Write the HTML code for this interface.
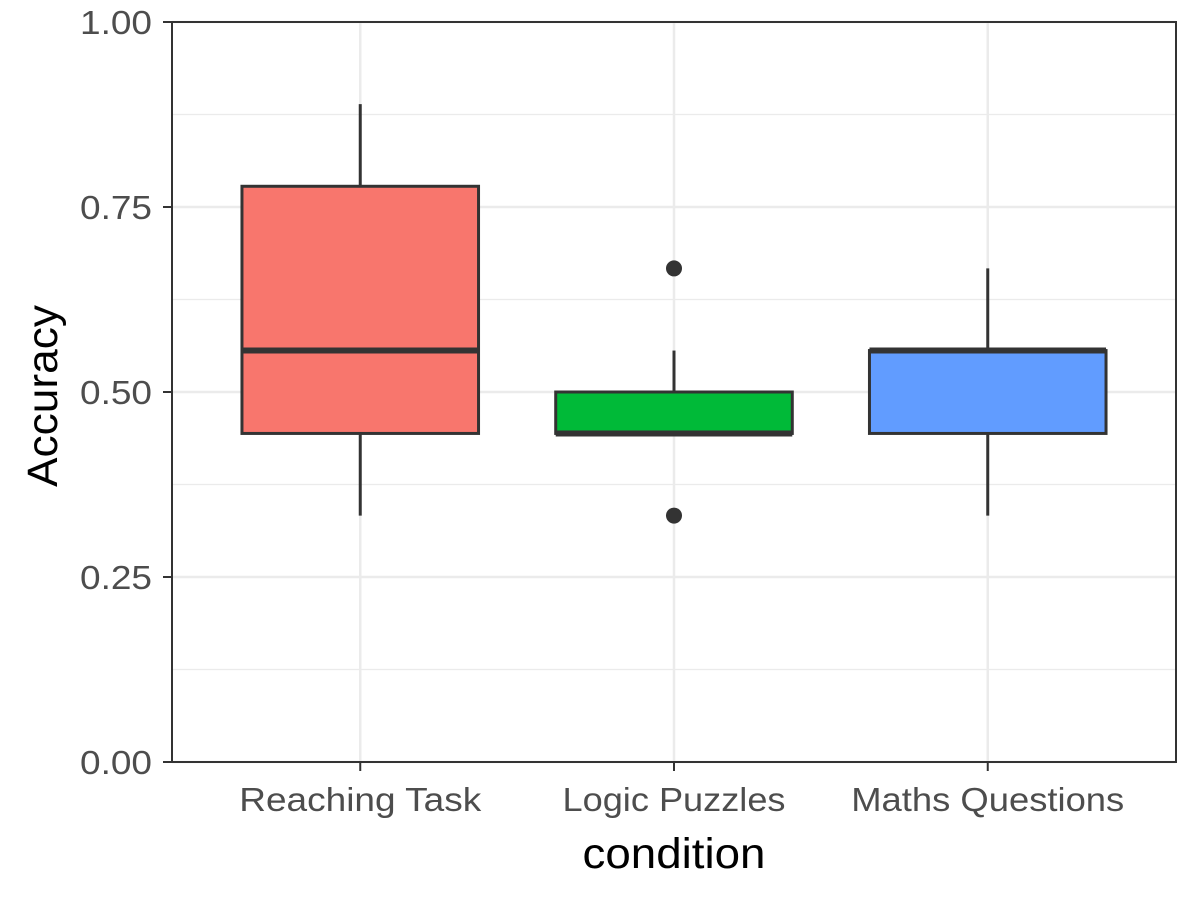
<!DOCTYPE html>
<html><head><meta charset="utf-8"><style>
body{margin:0;background:#fff}
svg text{font-family:"Liberation Sans",Arial,sans-serif}
</style></head><body>
<svg id="chart" width="1200" height="900" xmlns="http://www.w3.org/2000/svg">
<rect x="0" y="0" width="1200" height="900" fill="#fff"/>
<g id="grid"></g>
<g id="boxes"></g>
<rect x="172" y="22" width="1004" height="740" fill="none" stroke="#333" stroke-width="2"/>
<g id="axes"></g>
<text x="674" y="868" font-size="43" text-anchor="middle" textLength="183" lengthAdjust="spacingAndGlyphs" fill="#000">condition</text>
<text transform="translate(57,396) rotate(-90)" font-size="43" text-anchor="middle" textLength="182" lengthAdjust="spacingAndGlyphs" fill="#000">Accuracy</text>
</svg>
<script>
const categories=["Reaching Task","Logic Puzzles","Maths Questions"];
const colors=["#F8766D","#00BA38","#619CFF"];
const whiskerLow=[0.333,0.444,0.333];
const q1=[0.444,0.444,0.444];
const median=[0.556,0.444,0.556];
const q3=[0.778,0.5,0.556];
const whiskerHigh=[0.889,0.556,0.667];
const outliers=[[],[0.667,0.333],[]];
const yTicks=[0,0.25,0.5,0.75,1];
const yTickLabels=["0.00","0.25","0.50","0.75","1.00"];
const NS="http://www.w3.org/2000/svg";
const X0=172,X1=1176,Y0=762,Y1=22;
const y=v=>Y0-(Y0-Y1)*v;
const unit=(X1-X0)/(categories.length-1+1.2);
const x=i=>X0+unit*(i+0.6);
function mk(p,t,a){const e=document.createElementNS(NS,t);for(const k in a)e.setAttribute(k,a[k]);p.appendChild(e);return e;}
const grid=document.getElementById('grid'),boxes=document.getElementById('boxes'),axes=document.getElementById('axes');
for(let i=0;i<yTicks.length-1;i++){const m=(yTicks[i]+yTicks[i+1])/2;
 const g=mk(grid,'line',{x1:X0,x2:X1,y1:y(m),y2:y(m),stroke:'#ebebeb','stroke-width':1.2});
 
 }
yTicks.forEach((t,i)=>{
 const g=mk(grid,'line',{x1:X0,x2:X1,y1:y(t),y2:y(t),stroke:'#ebebeb','stroke-width':2.5});
 
 
 const tk=mk(axes,'line',{x1:X0-9,x2:X0,y1:y(t),y2:y(t),stroke:'#333','stroke-width':2});
 
 
 const tx=mk(axes,'text',{x:X0-20,y:y(t)+12,'font-size':33,'text-anchor':'end',textLength:72,lengthAdjust:'spacingAndGlyphs',fill:'#4d4d4d'});
 tx.textContent=yTickLabels[i];
 
 
});
const xLabelWidths=[242,223,273];
categories.forEach((c,i)=>{
 const cx=x(i);
 const g=mk(grid,'line',{x1:cx,x2:cx,y1:Y1,y2:Y0,stroke:'#ebebeb','stroke-width':2.5});
 
 
 const tk=mk(axes,'line',{x1:cx,x2:cx,y1:Y0,y2:Y0+9,stroke:'#333','stroke-width':2});
 
 
 const tx=mk(axes,'text',{x:cx,y:811,'font-size':33,'text-anchor':'middle',textLength:xLabelWidths[i],lengthAdjust:'spacingAndGlyphs',fill:'#4d4d4d'});
 tx.textContent=c;
 
 
 const hw=unit*0.377;
 const wl=mk(boxes,'line',{x1:cx,x2:cx,y1:y(q3[i]),y2:y(whiskerHigh[i]),stroke:'#333','stroke-width':3});
 
 
 const wl2=mk(boxes,'line',{x1:cx,x2:cx,y1:y(q1[i]),y2:y(whiskerLow[i]),stroke:'#333','stroke-width':3});
 
 
 const b=mk(boxes,'rect',{x:cx-hw,y:y(q3[i]),width:hw*2,height:Math.max(0,y(q1[i])-y(q3[i])),fill:colors[i],stroke:'#333','stroke-width':3});
 
 
 const m=mk(boxes,'line',{x1:cx-hw,x2:cx+hw,y1:y(median[i]),y2:y(median[i]),stroke:'#333','stroke-width':6});
 
 
 outliers[i].forEach(o=>{
  const d=mk(boxes,'circle',{cx:cx,cy:y(o),r:8,fill:'#333'});
  
  
 });
});
</script>
</body></html>
